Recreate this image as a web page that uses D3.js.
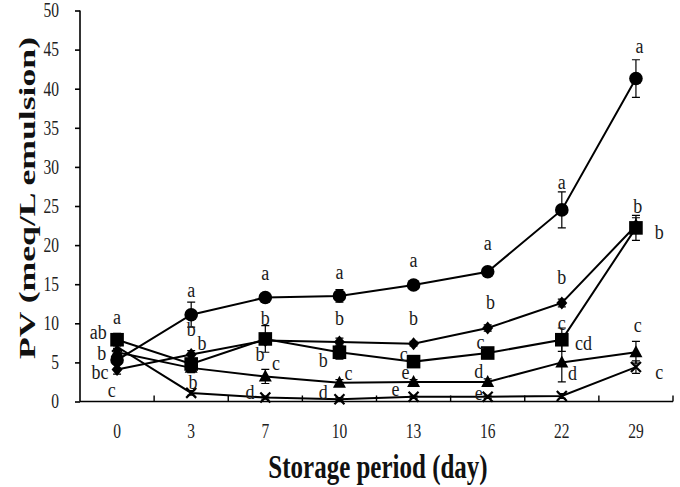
<!DOCTYPE html>
<html><head><meta charset="utf-8">
<script src="https://cdn.jsdelivr.net/npm/d3@7"></script>
<style>body{margin:0;background:#fff}svg{display:block}</style>
</head><body><svg id="c" width="680" height="487"></svg>
<script>
// ---- data ----
const days = ["0","3","7","10","13","16","22","29"];
const yTicks = [0,5,10,15,20,25,30,35,40,45,50];

const circleVals   = [5.3, 11.1, 13.3, 13.5, 14.9, 16.6, 24.5, 41.3];
const circleErr    = [0.5, 1.6, 0.5, 0.8, 0.4, 0.5, 2.3, 2.4];
const diamondVals  = [4.1, 6.0, 7.8, 7.6, 7.4, 9.4, 12.6, 22.5];
const diamondErr   = [0.6, 0.5, 0.5, 0.5, 0.3, 0.4, 0.5, 1.0];
const squareVals   = [7.9, 4.8, 8.0, 6.3, 5.1, 6.2, 7.9, 22.2];
const squareErr    = [0.8, 0.6, 1.7, 0.9, 0.6, 0.7, 1.5, 1.6];
const triangleVals = [6.3, 4.3, 3.2, 2.4, 2.5, 2.5, 5.0, 6.3];
const triangleErr  = [0.5, 0.6, 0.9, 0.4, 0.3, 0.4, 2.5, 1.4];
const crossVals    = [7.0, 1.1, 0.5, 0.3, 0.6, 0.6, 0.7, 4.4];
const crossErr     = [0.5, 0.3, 0.2, 0.2, 0.2, 0.2, 0.3, 0.8];

// significance letters: day, value level, text, side (-1 left .. +1 right of the point)
const letterDays  = ["0","0","0","0","0", "3","3","3","3", "7","7","7","7","7", "10","10","10","10","10", "13","13","13","13","13", "16","16","16","16","16", "22","22","22","22","22", "29","29","29","29","29"];
const letterVals  = [10.9,9.0,6.3,3.9,1.5, 14.3,9.4,7.5,2.6, 16.5,10.8,6.2,5.0,1.3, 16.6,10.8,5.4,3.7,1.3, 18.2,10.7,6.2,3.8,1.7, 20.3,12.8,7.7,4.0,1.2, 28.1,16.0,10.1,7.5,3.7, 45.5,25.1,21.7,9.8,3.8];
const letterTexts = ["a","ab","b","bc","c", "a","b","b","b", "a","b","b","c","d", "a","b","b","c","d", "a","b","c","e","e", "a","b","c","d","e", "a","b","c","cd","d", "a","b","b","c","c"];
const letterSide  = [0,-1.05,-0.85,-0.95,-0.3, 0,0,0.6,0.1, 0,0,-0.3,0.6,-0.85, 0,0,-0.9,0.5,-0.9, 0,0,-0.55,-0.45,-1, 0,0.15,-0.4,-0.5,-0.5, 0,0,0,1.2,0.6, 0.2,0.1,1.3,0.1,1.3];

const xTitle = "Storage period (day)";
const yTitle = "PV (meq/L emulsion)";

// ---- chart ----
const svg = d3.select("#c");
const FONT = "'Liberation Serif','Times New Roman',serif";
const STRETCH = 1.35;

const x = d3.scaleBand().domain(days).range([80, 673]).padding(0);
const y = d3.scaleLinear().domain([0, 50]).range([401.5, 10.5]);
const cx = d => x(d) + x.bandwidth() / 2;

// y axis
const yAxis = svg.append("g").attr("transform", "translate(80,0)")
  .call(d3.axisLeft(y).tickValues(yTicks).tickSize(5).tickFormat(""));
yAxis.select(".domain").attr("stroke", "#000").attr("stroke-width", 1.6).attr("d", `M0,${y(50)}V${y(0)}`);
yAxis.selectAll(".tick line").attr("stroke", "#000").attr("stroke-width", 1.6);
svg.append("g").selectAll("text").data(yTicks).join("text")
  .attr("transform", d => `translate(59,${y(d)}) scale(1,${STRETCH})`)
  .attr("text-anchor", "end").attr("dominant-baseline", "central")
  .attr("font-family", FONT).attr("font-size", 15.5).attr("fill", "#222").text(d => d);

// x axis
const xAxis = svg.append("g").attr("transform", `translate(0,${y(0)})`)
  .call(d3.axisBottom(x).tickSize(0).tickFormat(""));
xAxis.select(".domain").attr("stroke", "#000").attr("stroke-width", 1.6).attr("d", `M80,0H673`);
xAxis.selectAll(".tick").remove();
const bounds = days.slice(1).map(d => x(d)).concat([673]);
xAxis.selectAll("line.b").data(bounds).join("line").attr("class", "b")
  .attr("x1", d => d).attr("x2", d => d).attr("y1", 0).attr("y2", -6)
  .attr("stroke", "#000").attr("stroke-width", 1.4);
svg.append("g").selectAll("text").data(days).join("text")
  .attr("transform", d => `translate(${cx(d)},431) scale(1,${STRETCH})`)
  .attr("text-anchor", "middle").attr("dominant-baseline", "central")
  .attr("font-family", FONT).attr("font-size", 15.5).attr("fill", "#222").text(d => d);

// titles
svg.append("text").attr("transform", `translate(378,467) scale(1,${STRETCH})`)
  .attr("text-anchor", "middle").attr("dominant-baseline", "central")
  .attr("font-family", FONT).attr("font-weight", "bold").attr("font-size", 25).attr("fill", "#111").text(xTitle);
svg.append("text").attr("transform", `translate(27,198) rotate(-90) scale(1.55,1)`)
  .attr("text-anchor", "middle").attr("dominant-baseline", "central")
  .attr("font-family", FONT).attr("font-weight", "bold").attr("font-size", 23).attr("fill", "#111").text(yTitle);

// series
const series = [
  { vals: triangleVals, err: triangleErr, shape: "triangle" },
  { vals: crossVals, err: crossErr, shape: "cross" },
  { vals: squareVals, err: squareErr, shape: "square" },
  { vals: diamondVals, err: diamondErr, shape: "diamond" },
  { vals: circleVals, err: circleErr, shape: "circle" }
];
const line = d3.line().x(d => cx(d.day)).y(d => y(d.v));
const plot = svg.append("g");
series.forEach(s => {
  const pts = days.map((d, i) => ({ day: d, v: s.vals[i], e: s.err[i] }));
  plot.append("path").datum(pts).attr("d", line).attr("fill", "none")
    .attr("stroke", "#000").attr("stroke-width", 2);
  const eb = plot.append("g");
  pts.forEach(p => {
    const x0 = cx(p.day), y1 = y(p.v + p.e), y2 = y(Math.max(0, p.v - p.e));
    eb.append("path").attr("d", `M${x0},${y1}V${y2}M${x0-4},${y1}H${x0+4}M${x0-4},${y2}H${x0+4}`)
      .attr("stroke", "#000").attr("stroke-width", 1.2).attr("fill", "none");
  });
  const mk = plot.append("g");
  pts.forEach(p => {
    const g = mk.append("g").attr("transform", `translate(${cx(p.day)},${y(p.v)})`);
    if (s.shape === "circle") g.append("circle").attr("r", 6.8).attr("fill", "#000");
    else if (s.shape === "square") g.append("rect").attr("x", -6.8).attr("y", -6.8).attr("width", 13.6).attr("height", 13.6).attr("fill", "#000");
    else if (s.shape === "diamond") g.append("path").attr("d", "M0,-6.5L5.5,0L0,6.5L-5.5,0Z").attr("fill", "#000");
    else if (s.shape === "triangle") g.append("path").attr("d", "M0,-7L6.5,5L-6.5,5Z").attr("fill", "#000");
    else g.append("path").attr("d", "M-5,-5L5,5M-5,5L5,-5").attr("stroke", "#000").attr("stroke-width", 2.2);
  });
});

// letters
svg.append("g").selectAll("text").data(letterTexts).join("text")
  .attr("transform", (t, i) => `translate(${cx(letterDays[i]) + letterSide[i] * 18},${y(letterVals[i])}) scale(1,1.2)`)
  .attr("text-anchor", "middle").attr("dominant-baseline", "central")
  .attr("font-family", FONT).attr("font-size", 18).attr("fill", "#1a1a1a").text(t => t);
</script>
</body></html>
